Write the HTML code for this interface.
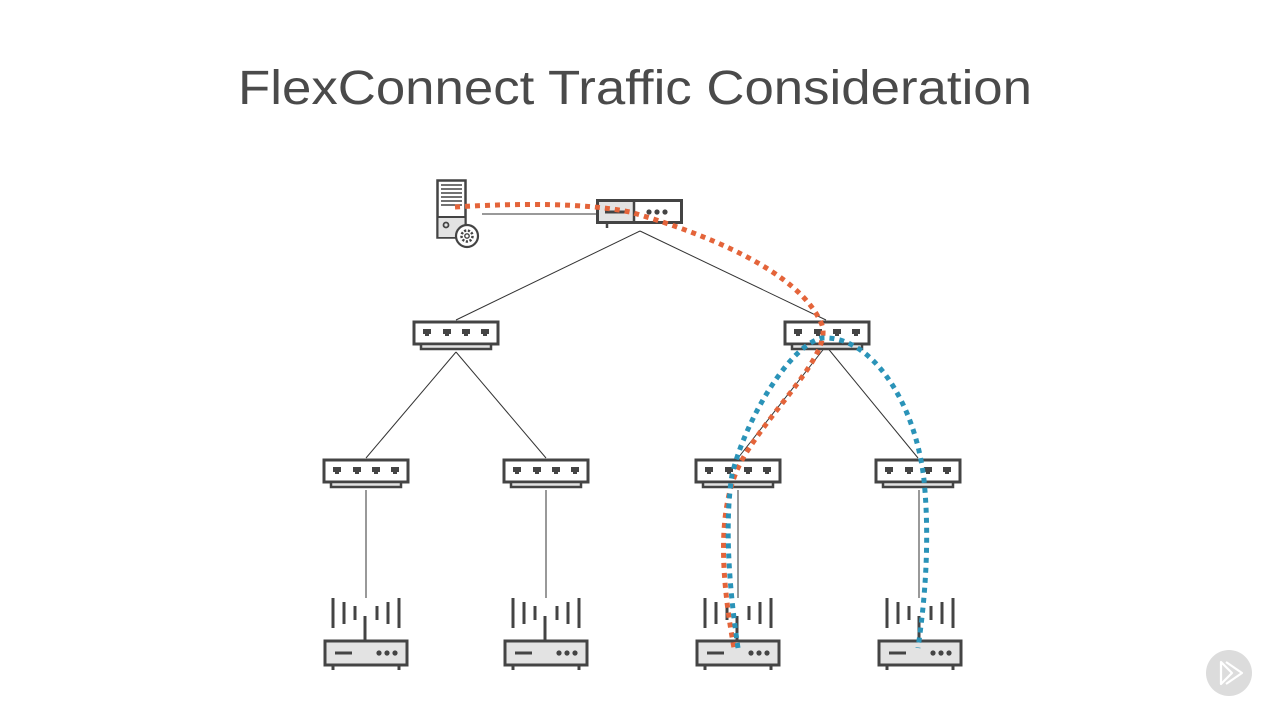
<!DOCTYPE html>
<html><head><meta charset="utf-8"><style>
html,body{margin:0;padding:0;background:#fff;}
svg{display:block}
</style></head><body>
<svg width="1280" height="720" viewBox="0 0 1280 720" xmlns="http://www.w3.org/2000/svg">
<defs>
<g id="sw">
  <rect x="-42" y="0" width="84" height="22" fill="#fff" stroke="#444" stroke-width="3"/>
  <rect x="-35" y="22" width="70" height="5" fill="#e3e3e3" stroke="#444" stroke-width="2.5"/>
  <g fill="#444">
    <rect x="-33" y="7" width="8" height="5"/><rect x="-31" y="12" width="4" height="2"/>
    <rect x="-13" y="7" width="8" height="5"/><rect x="-11" y="12" width="4" height="2"/>
    <rect x="6" y="7" width="8" height="5"/><rect x="8" y="12" width="4" height="2"/>
    <rect x="25" y="7" width="8" height="5"/><rect x="27" y="12" width="4" height="2"/>
  </g>
</g>
<g id="ap">
  <g stroke="#444" stroke-width="3" fill="none">
    <line x1="-33" y1="598" x2="-33" y2="628"/>
    <line x1="-22" y1="602" x2="-22" y2="624"/>
    <line x1="-11" y1="606" x2="-11" y2="620"/>
    <line x1="33" y1="598" x2="33" y2="628"/>
    <line x1="22" y1="602" x2="22" y2="624"/>
    <line x1="11" y1="606" x2="11" y2="620"/>
    <line x1="-1" y1="616" x2="-1" y2="641"/>
    <line x1="-33" y1="665" x2="-33" y2="670"/>
    <line x1="33" y1="665" x2="33" y2="670"/>
  </g>
  <rect x="-41" y="641" width="82" height="24" fill="#e3e3e3" stroke="#444" stroke-width="3"/>
  <line x1="-31" y1="653" x2="-14" y2="653" stroke="#444" stroke-width="3"/>
  <circle cx="13" cy="653" r="2.6" fill="#444"/><circle cx="21" cy="653" r="2.6" fill="#444"/><circle cx="29" cy="653" r="2.6" fill="#444"/>
</g>
</defs>

<text x="238" y="104" font-family="Liberation Sans, sans-serif" font-size="48" fill="#4a4a4a" textLength="794" lengthAdjust="spacingAndGlyphs">FlexConnect Traffic Consideration</text>

<g stroke="#333" stroke-width="1" fill="none">
  <line x1="482" y1="214" x2="597" y2="214"/>
  <line x1="640" y1="231" x2="456" y2="320"/>
  <line x1="640" y1="231" x2="826" y2="320"/>
  <line x1="456" y1="352" x2="366" y2="458"/>
  <line x1="456" y1="352" x2="546" y2="458"/>
  <line x1="826" y1="346" x2="738" y2="458"/>
  <line x1="826" y1="346" x2="918" y2="458"/>
  <line x1="366" y1="490" x2="366" y2="598"/>
  <line x1="546" y1="490" x2="546" y2="598"/>
  <line x1="738" y1="490" x2="738" y2="598"/>
  <line x1="919" y1="490" x2="919" y2="598"/>
</g>

<rect x="437.5" y="180.5" width="28" height="57" fill="#fff" stroke="#444" stroke-width="2.5"/>
<rect x="438.5" y="217" width="26" height="20" fill="#e3e3e3"/>
<line x1="437.5" y1="217" x2="465.5" y2="217" stroke="#444" stroke-width="2"/>
<g stroke="#444" stroke-width="1.6"><line x1="441" y1="185" x2="462" y2="185"/><line x1="441" y1="189" x2="462" y2="189"/><line x1="441" y1="193" x2="462" y2="193"/><line x1="441" y1="197" x2="462" y2="197"/><line x1="441" y1="201" x2="462" y2="201"/><line x1="441" y1="205" x2="462" y2="205"/></g>
<circle cx="446" cy="225" r="2.5" fill="none" stroke="#444" stroke-width="1.8"/>
<circle cx="467" cy="236" r="11" fill="#fff" stroke="#444" stroke-width="2.2"/>
<circle cx="467" cy="236" r="5.5" fill="none" stroke="#444" stroke-width="2.5" stroke-dasharray="2.2 1.6"/>
<circle cx="467" cy="236" r="2.2" fill="none" stroke="#444" stroke-width="1.4"/>

<rect x="597.5" y="200.5" width="84" height="22" fill="#fff" stroke="#444" stroke-width="3"/>
<rect x="599" y="202" width="35" height="19" fill="#e3e3e3"/>
<line x1="634" y1="200" x2="634" y2="223" stroke="#444" stroke-width="2.5"/>
<line x1="605" y1="212" x2="626" y2="212" stroke="#444" stroke-width="3"/>
<circle cx="649" cy="212" r="2.6" fill="#444"/><circle cx="657" cy="212" r="2.6" fill="#444"/><circle cx="665" cy="212" r="2.6" fill="#444"/>
<line x1="607" y1="223" x2="607" y2="228" stroke="#444" stroke-width="2.5"/>

<use href="#sw" transform="translate(456,322)"/>
<use href="#sw" transform="translate(827,322)"/>
<use href="#sw" transform="translate(366,460)"/>
<use href="#sw" transform="translate(546,460)"/>
<use href="#sw" transform="translate(738,460)"/>
<use href="#sw" transform="translate(918,460)"/>

<use href="#ap" transform="translate(366,0)"/>
<use href="#ap" transform="translate(546,0)"/>
<use href="#ap" transform="translate(738,0)"/>
<use href="#ap" transform="translate(920,0)"/>

<path d="M455,207 C520,203 585,203 630,212 C700,232 800,270 822,325 C832,355 770,410 742,460 C720,500 718,560 734,648" fill="none" stroke="#e4643a" stroke-width="5" stroke-dasharray="5 5"/>
<path d="M738,648 C728,580 725,520 732,475 C745,420 790,345 822,338 C870,335 915,400 924,480 C930,540 925,600 918,648" fill="none" stroke="#2a93b8" stroke-width="5" stroke-dasharray="5 5"/>

<circle cx="1229" cy="673" r="23" fill="#dcdcdc"/>
<g fill="none" stroke="#fff" stroke-width="2.2" stroke-linejoin="round">
<path d="M1221,662 L1221,684 L1232,673 Z"/>
<path d="M1226,662 L1242,673 L1226,684"/>
</g>
</svg>
</body></html>
